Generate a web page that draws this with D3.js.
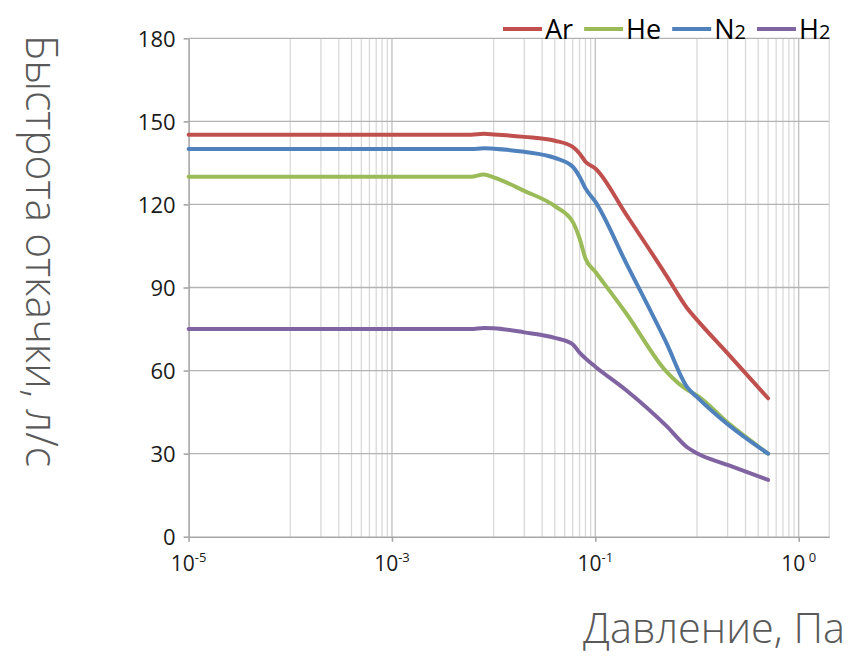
<!DOCTYPE html>
<html>
<head>
<meta charset="utf-8">
<style>
  body { margin: 0; background: #fff; }
  text { font-family: "Open Sans", sans-serif; }
</style>
</head>
<body>
<svg class="chart"></svg>

<script src="https://d3js.org/d3.v7.min.js"></script>
<script>
// давление, Па (общая ось для всех газов)
pressure = [1e-5, 1e-4, 1e-3, 0.006, 0.008, 0.01, 0.02, 0.04, 0.06, 0.07, 0.08, 0.1, 0.2, 0.5, 0.8, 1, 2, 5]

// быстрота откачки, л/с
ar = [145.2, 145.2, 145.2, 145.2, 145.5, 145.3, 144.4, 143.0, 140.8, 138.4, 135.4, 133.0, 116.5, 94.3, 82.5, 78.3, 66.2, 50]
he = [130, 130, 130, 130, 130.8, 129.8, 124.9, 119.4, 113.7, 107.7, 100.5, 95.7, 80.8, 59.6, 53.0, 51.0, 41.2, 30]
n2 = [140, 140, 140, 140, 140.3, 140.1, 139.0, 136.8, 133.6, 130.0, 125.8, 121.0, 99.0, 70.0, 54.0, 50.4, 40.6, 30]
h2 = [75, 75, 75, 75, 75.4, 75.3, 73.8, 71.8, 69.5, 66.5, 64.4, 61.4, 53.0, 40.0, 32.3, 30.1, 25.9, 20.5]

gases  = [["Ar", ""], ["He", ""], ["N", "2"], ["H", "2"]]
series = [ar, he, n2, h2]
colors = ["#C0504D", "#9BBB59", "#4F81BD", "#8064A2"]

yTicks  = [0, 30, 60, 90, 120, 150, 180]
xMajor  = [1e-5, 1e-3, 1e-1, 10]
xLabels = [["10", "-5"], ["10", "-3"], ["10", "-1"], ["10", " 0"]]

width  = 862
height = 662
margin = ({top: 38.3, right: 32.7, bottom: 125.3, left: 188.6})

x = d3.scaleLog()
    .domain([1e-5, 20])
    .range([margin.left, width - margin.right])

y = d3.scaleLinear()
    .domain([0, 180])
    .range([height - margin.bottom, margin.top])

// minor lines like Excel's log base 100: 10,20,...,90 x major
xMinor = xMajor.flatMap(m => d3.range(1, 10).map(k => m * k * 10))
    .filter(v => v <= 20)

const svg = d3.select("svg")
    .attr("width", width)
    .attr("height", height)
    .attr("viewBox", [0, 0, width, height]);

// grid
svg.append("g")
    .attr("stroke", "#D9D9D9")
    .attr("stroke-width", 1.3)
  .selectAll("line")
  .data(xMinor)
  .join("line")
    .attr("x1", d => x(d)).attr("x2", d => x(d))
    .attr("y1", y(0)).attr("y2", y(180));

svg.append("g")
    .attr("stroke", "#BFBFBF")
    .attr("stroke-width", 1.3)
  .selectAll("line")
  .data(xMajor.slice(1))
  .join("line")
    .attr("x1", d => x(d)).attr("x2", d => x(d))
    .attr("y1", y(0)).attr("y2", y(180));

svg.append("g")
    .attr("stroke", "#B3B3B3")
    .attr("stroke-width", 1.3)
  .selectAll("line")
  .data(yTicks.slice(1))
  .join("line")
    .attr("x1", x(1e-5)).attr("x2", x(20))
    .attr("y1", d => y(d)).attr("y2", d => y(d));

svg.append("line")
    .attr("x1", x(20)).attr("x2", x(20))
    .attr("y1", y(0)).attr("y2", y(180))
    .attr("stroke", "#D9D9D9")
    .attr("stroke-width", 1.3);

// axes
yAxis = g => g
    .attr("transform", `translate(${margin.left},0)`)
    .call(d3.axisLeft(y).tickValues(yTicks).tickSize(5).tickPadding(8).tickSizeOuter(0))
    .call(g => g.selectAll("line, path").attr("stroke", "#A6A6A6").attr("stroke-width", 1.6))
    .call(g => g.selectAll("text")
        .attr("font-size", 22)
        .attr("fill", "#1a1a1a")
        .attr("font-family", "\"Open Sans\", sans-serif")
        .attr("dy", "0.36em"));

xAxis = g => g
    .attr("transform", `translate(0,${height - margin.bottom})`)
    .call(d3.axisBottom(x).tickValues(xMajor).tickFormat("").tickSize(5).tickSizeOuter(0))
    .call(g => g.selectAll("line, path").attr("stroke", "#A6A6A6").attr("stroke-width", 1.6));

svg.append("g").call(xAxis);
svg.append("g").call(yAxis);

// x tick labels 10^n
const xl = svg.append("g")
    .attr("font-size", 21)
    .attr("fill", "#1a1a1a")
    .attr("text-anchor", "middle")
  .selectAll("text")
  .data(xMajor)
  .join("text")
    .attr("x", d => x(d))
    .attr("y", 571);
xl.append("tspan").text((d, i) => xLabels[i][0]);
xl.append("tspan")
    .attr("font-size", 13)
    .attr("dy", -9)
    .attr("xml:space", "preserve")
    .style("white-space", "pre")
    .text((d, i) => xLabels[i][1]);

// curves
line = d3.line()
    .x(d => x(d[0]))
    .y(d => y(d[1]))
    .curve(d3.curveMonotoneX);

svg.append("g")
    .attr("fill", "none")
    .attr("stroke-width", 4)
    .attr("stroke-linecap", "round")
    .attr("stroke-linejoin", "round")
  .selectAll("path")
  .data(series)
  .join("path")
    .attr("stroke", (d, i) => colors[i])
    .attr("d", d => line(d.map((v, j) => [pressure[j], v])));

// legend
const legend = svg.append("g").attr("font-size", 27).attr("fill", "#000");
let lx = 503;
gases.forEach((g, i) => {
  legend.append("line")
      .attr("x1", lx).attr("x2", lx + 39)
      .attr("y1", 29).attr("y2", 29)
      .attr("stroke", colors[i])
      .attr("stroke-width", 4);
  const t = legend.append("text")
      .attr("x", lx + 42)
      .attr("y", 38.5);
  t.append("tspan").text(g[0]);
  if (g[1]) t.append("tspan").attr("font-size", 20).text(g[1]);
  lx += 42 + t.node().getComputedTextLength() + 11;
});

// axis titles
svg.append("text")
    .attr("transform", `translate(26,251) rotate(90)`)
    .attr("text-anchor", "middle")
    .attr("font-size", 45)
    .attr("font-weight", 300)
    .attr("fill", "#595959")
    .attr("textLength", 432)
    .attr("lengthAdjust", "spacingAndGlyphs")
    .text("Быстрота откачки, л/с");

svg.append("text")
    .attr("x", 583)
    .attr("y", 643)
    .attr("font-size", 43)
    .attr("font-weight", 300)
    .attr("fill", "#595959")
    .attr("textLength", 262)
    .attr("lengthAdjust", "spacingAndGlyphs")
    .text("Давление, Па");
</script>
</body>
</html>
